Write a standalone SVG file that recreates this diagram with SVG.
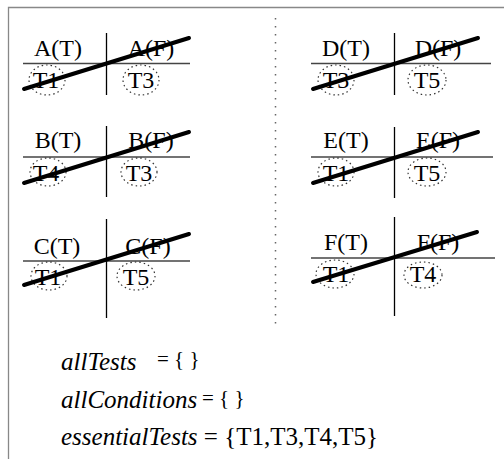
<svg xmlns="http://www.w3.org/2000/svg" width="504" height="459" viewBox="0 0 504 459">
<style>
text{font-family:"Liberation Serif","Times New Roman",serif;fill:#000}
.lbl{font-size:24px;text-anchor:middle}
.hl{stroke:#444;stroke-width:1.3;fill:none}
.vl{stroke:#000;stroke-width:1.3;fill:none}
.ov{fill:none;stroke:#333;stroke-width:1.2;stroke-dasharray:1.5 3}
.st{stroke:#000;stroke-width:4;stroke-linecap:round}
.it{font-size:25px;font-style:italic}
.eq{font-size:21px}
</style>
<rect width="504" height="459" fill="#fff"/>
<path d="M8.5,459 V7.5 H504" fill="none" stroke="#888" stroke-width="1.3"/>
<line x1="275.5" y1="18" x2="275.5" y2="327" stroke="#666" stroke-width="1.5" stroke-dasharray="1.5 6.5"/>

<g id="tableA">
<line class="hl" x1="23" y1="63.5" x2="190" y2="63.5"/>
<line class="vl" x1="106.5" y1="33" x2="106.5" y2="95"/>
<text class="lbl" x="58" y="56">A(T)</text>
<text class="lbl" x="151" y="56">A(F)</text>
<text class="lbl" x="46" y="88">T1</text>
<text class="lbl" x="141" y="88">T3</text>
<ellipse class="ov" cx="47" cy="80" rx="18" ry="15"/>
<ellipse class="ov" cx="141" cy="80" rx="18" ry="15"/>
</g>
<g id="tableB">
<line class="hl" x1="23" y1="157" x2="190" y2="157"/>
<line class="vl" x1="106.5" y1="126" x2="106.5" y2="197"/>
<text class="lbl" x="58" y="148">B(T)</text>
<text class="lbl" x="151" y="148">B(F)</text>
<text class="lbl" x="46" y="181">T4</text>
<text class="lbl" x="139" y="181">T3</text>
<ellipse class="ov" cx="48" cy="172" rx="18" ry="14"/>
<ellipse class="ov" cx="139" cy="172" rx="18" ry="14"/>
</g>
<g id="tableC">
<line class="hl" x1="23" y1="261" x2="190" y2="261"/>
<line class="vl" x1="106.5" y1="219" x2="106.5" y2="318"/>
<text class="lbl" x="57" y="254">C(T)</text>
<text class="lbl" x="148" y="254">C(F)</text>
<text class="lbl" x="48" y="285">T1</text>
<text class="lbl" x="136" y="285">T5</text>
<ellipse class="ov" cx="49" cy="276" rx="18" ry="14"/>
<ellipse class="ov" cx="136" cy="276" rx="19" ry="14"/>
</g>
<g id="tableD">
<line class="hl" x1="311" y1="63.5" x2="491" y2="63.5"/>
<line class="vl" x1="394.5" y1="33" x2="394.5" y2="95"/>
<text class="lbl" x="346" y="56">D(T)</text>
<text class="lbl" x="438" y="56">D(F)</text>
<text class="lbl" x="336" y="88">T3</text>
<text class="lbl" x="427" y="88">T5</text>
<ellipse class="ov" cx="336" cy="80" rx="18" ry="15"/>
<ellipse class="ov" cx="427" cy="80" rx="19" ry="15"/>
</g>
<g id="tableE">
<line class="hl" x1="311" y1="157" x2="493" y2="157"/>
<line class="vl" x1="394.5" y1="127" x2="394.5" y2="198"/>
<text class="lbl" x="346" y="148">E(T)</text>
<text class="lbl" x="438" y="148">E(F)</text>
<text class="lbl" x="336" y="181">T1</text>
<text class="lbl" x="427" y="181">T5</text>
<ellipse class="ov" cx="336" cy="172" rx="18" ry="14"/>
<ellipse class="ov" cx="427" cy="172" rx="19" ry="14"/>
</g>
<g id="tableF">
<line class="hl" x1="311" y1="258" x2="495" y2="258"/>
<line class="vl" x1="394.5" y1="217" x2="394.5" y2="316"/>
<text class="lbl" x="346" y="250">F(T)</text>
<text class="lbl" x="438" y="250">F(F)</text>
<text class="lbl" x="336" y="282">T1</text>
<text class="lbl" x="423" y="282">T4</text>
<ellipse class="ov" cx="335" cy="274" rx="19" ry="14"/>
<ellipse class="ov" cx="423" cy="275" rx="19" ry="13"/>
</g>

<g id="connectors">
<line class="st" x1="24" y1="89" x2="189" y2="38"/>
<line class="st" x1="24" y1="183" x2="189" y2="132"/>
<line class="st" x1="24" y1="285" x2="189" y2="234"/>
<line class="st" x1="313" y1="89" x2="478" y2="38"/>
<line class="st" x1="313" y1="183" x2="478" y2="132"/>
<line class="st" x1="313" y1="282" x2="477" y2="232"/>
</g>

<g id="sets">
<text class="it" x="61" y="370">allTests</text>
<text class="eq" x="157" y="366">= { }</text>
<text class="it" x="61" y="408">allConditions</text>
<text class="eq" x="202" y="405">= { }</text>
<text class="it" x="61" y="445">essentialTests<tspan font-style="normal"> = {T1,T3,T4,T5}</tspan></text>
</g>
</svg>
